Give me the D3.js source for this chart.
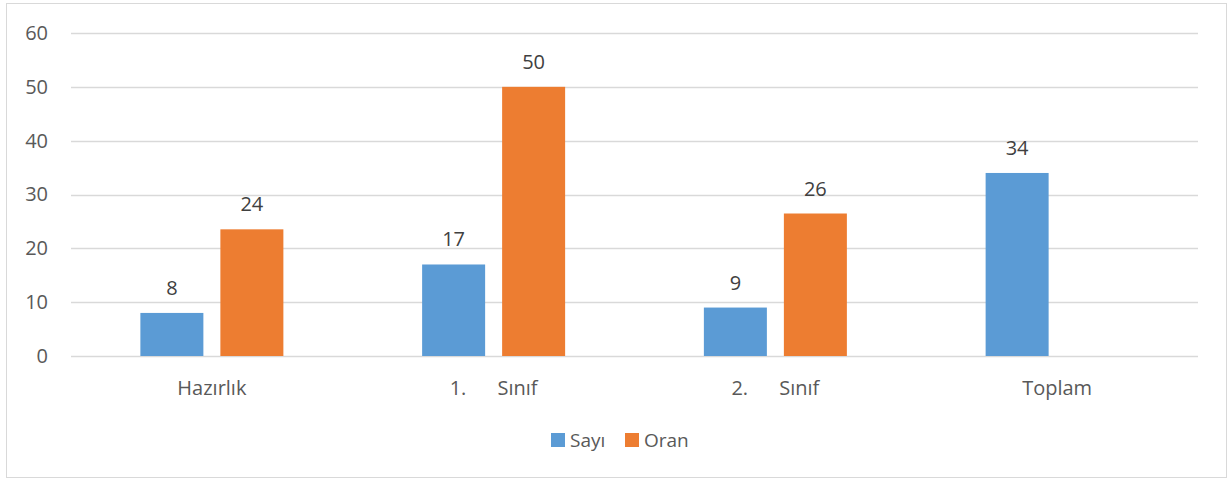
<!DOCTYPE html>
<html>
<head>
<meta charset="utf-8">
<script src="https://cdn.jsdelivr.net/npm/d3@7"></script>
<style>
  body { margin: 0; background: #fff; }
  svg text { font-family: "Open Sans", sans-serif; }
</style>
</head>
<body>
<svg></svg>
<script>
const categories = ['Hazırlık', '1.      Sınıf', '2.      Sınıf', 'Toplam'];
const seriesNames = ['Sayı', 'Oran'];
const sayiValues = [8, 17, 9, 34];
const oranValues = [23.53, 50, 26.47, null];
const yTicks = [0, 10, 20, 30, 40, 50, 60];
const colors = ['#5b9bd5', '#ed7d31'];

const WIDTH = 1229;
const HEIGHT = 480;
const PLOT_LEFT = 71;
const PLOT_RIGHT = 1198;
const PLOT_TOP = 33;
const PLOT_BOTTOM = 356;

const svg = d3.select('svg').
attr('width', WIDTH).
attr('height', HEIGHT);

// chart border
svg.append('rect').
attr('x', 6.5).
attr('y', 3.5).
attr('width', 1220).
attr('height', 474).
attr('fill', '#fff').
attr('stroke', '#d9d9d9');

const xScale = d3.scaleBand().
domain(categories).
range([PLOT_LEFT, PLOT_RIGHT]);

const yScale = d3.scaleLinear().
domain([0, 60]).
range([PLOT_BOTTOM, PLOT_TOP]);

const BAR_W = 63;
const BAR_GAP = 17;
const seriesX = d3.scaleOrdinal().
domain(seriesNames).
range([-BAR_GAP / 2 - BAR_W, BAR_GAP / 2]);

// gridlines
svg.append('g').
selectAll('line').
data(yTicks).
join('line').
attr('x1', PLOT_LEFT).
attr('x2', PLOT_RIGHT).
attr('y1', d => Math.round(yScale(d)) + 0.5).
attr('y2', d => Math.round(yScale(d)) + 0.5).
attr('stroke', '#d9d9d9').
attr('stroke-width', 1.5);

// y axis labels
const yAxis = d3.axisLeft(yScale).
tickValues(yTicks).
tickSize(0).
tickPadding(0);

const yAxisG = svg.append('g').
attr('transform', `translate(48,0)`).
call(yAxis);
yAxisG.select('.domain').remove();
yAxisG.selectAll('text').
attr('font-size', '20px').
attr('fill', '#595959').
attr('font-family', '"Open Sans", sans-serif');

// x axis labels
const xAxis = d3.axisBottom(xScale).
tickSize(0).
tickPadding(0);

const xAxisG = svg.append('g').
attr('transform', `translate(0, ${PLOT_BOTTOM + 25})`).
call(xAxis);
xAxisG.select('.domain').remove();
xAxisG.selectAll('text').
attr('font-size', '20px').
attr('fill', '#595959').
attr('font-family', '"Open Sans", sans-serif').
style('white-space', 'pre');

// bars
const seriesData = [
{ name: seriesNames[0], values: sayiValues },
{ name: seriesNames[1], values: oranValues }];


seriesData.forEach((s, i) => {
  const pts = categories.map((c, j) => ({ cat: c, value: s.values[j] })).
  filter(d => d.value !== null);

  svg.append('g').
  selectAll('rect').
  data(pts).
  join('rect').
  attr('x', d => xScale(d.cat) + xScale.bandwidth() / 2 + seriesX(s.name)).
  attr('y', d => yScale(d.value)).
  attr('width', BAR_W).
  attr('height', d => yScale(0) - yScale(d.value)).
  attr('fill', colors[i]);

  svg.append('g').
  selectAll('text').
  data(pts).
  join('text').
  attr('x', d => xScale(d.cat) + xScale.bandwidth() / 2 + seriesX(s.name) + BAR_W / 2).
  attr('y', d => yScale(d.value) - 18).
  attr('text-anchor', 'middle').
  attr('font-size', '20px').
  attr('fill', '#404040').
  text(d => Math.round(d.value));
});

// legend
const legendG = svg.append('g').
attr('transform', 'translate(551, 433)');

const legendX = [0, 74];
seriesNames.forEach((n, i) => {
  legendG.append('rect').
  attr('x', legendX[i]).
  attr('y', 0).
  attr('width', 14).
  attr('height', 14).
  attr('fill', colors[i]);
  legendG.append('text').
  attr('x', legendX[i] + 19).
  attr('y', 14).
  attr('font-size', '19px').
  attr('fill', '#595959').
  text(n);
});
</script>
</body>
</html>
